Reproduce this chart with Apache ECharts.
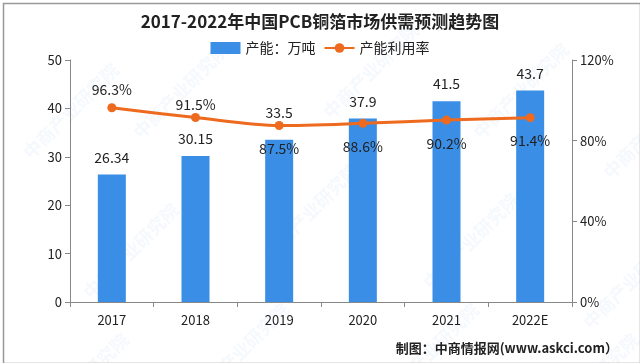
<!DOCTYPE html>
<html><head><meta charset="utf-8">
<script src="https://cdn.jsdelivr.net/npm/echarts@6/dist/echarts.min.js"></script>
<style>html,body{margin:0;padding:0;background:#fff}#c{width:640px;height:363px}</style>
</head><body><div id="c"></div>
<script>
const categories = ['2017','2018','2019','2020','2021','2022E'];
const capacity = [26.34, 30.15, 33.5, 37.9, 41.5, 43.7];
const utilization = [96.3, 91.5, 87.5, 88.6, 90.2, 91.4];
const chart = echarts.init(document.getElementById('c'));
const font = '"Noto Sans CJK SC", sans-serif';
const wm = [];
[[20,60],[130,40],[320,20],[470,40],[600,80],[80,200],[260,160],[420,190],[580,230],[30,330],[190,300],[380,300],[540,330]].forEach(p=>{
  wm.push({type:'text',left:p[0],top:p[1],rotation:Math.PI/4,silent:true,z:-1,
    style:{text:'中商产业研究院',font:'bold 18px '+font,fill:'rgba(120,160,210,0.07)'}});
});
chart.setOption({
  animation:false,
  backgroundColor:'#fff',
  title:{text:'2017-2022年中国PCB铜箔市场供需预测趋势图',left:'center',top:8,
    textStyle:{fontFamily:font,fontSize:17,fontWeight:'bold',color:'#222'}},
  legend:{top:36,left:'center',itemWidth:30,itemHeight:12,itemGap:8,
    textStyle:{fontFamily:font,fontSize:14,color:'#222'},
    data:[{name:'产能：万吨',icon:'rect'},{name:'产能利用率'}]},
  grid:{left:70,right:68,top:60,bottom:61},
  xAxis:{type:'category',data:categories,
    axisLine:{lineStyle:{color:'#888'}},
    axisTick:{show:true,alignWithLabel:false,lineStyle:{color:'#888'}},
    axisLabel:{fontFamily:font,fontSize:13,color:'#222',margin:12}},
  yAxis:[
    {type:'value',min:0,max:50,interval:10,
     axisLine:{show:true,lineStyle:{color:'#888'}},axisTick:{show:true,lineStyle:{color:'#888'}},
     splitLine:{show:false},axisLabel:{fontFamily:font,fontSize:13,color:'#222'}},
    {type:'value',min:0,max:120,interval:40,
     axisLine:{show:true,lineStyle:{color:'#888'}},axisTick:{show:true,inside:false,lineStyle:{color:'#888'}},
     splitLine:{show:false},axisLabel:{fontFamily:font,fontSize:13,color:'#222',formatter:'{value}%'}}
  ],
  series:[
    {name:'产能：万吨',type:'bar',barWidth:28,
     data:capacity.map((v,i)=>({value:v,label:{distance:i===2?20:10}})),
     itemStyle:{color:'#3A8EE6'},
     label:{show:true,position:'top',fontFamily:font,fontSize:14,color:'#222'}},
    {name:'产能利用率',type:'line',yAxisIndex:1,smooth:0.3,
     symbol:'circle',symbolSize:9,z:3,
     lineStyle:{color:'#EE6A1F',width:3},itemStyle:{color:'#EE6A1F'},
     label:{show:true,fontFamily:font,fontSize:14,color:'#222',formatter:'{c}%'},
     data:utilization.map((v,i)=>({value:v,label:{position:i<2?'top':'bottom',distance:i===0?7:(i===1?1:12)}}))}
  ],
  graphic:wm.concat([
    {type:'text',right:22,bottom:8,style:{text:'制图：中商情报网(www.askci.com）',font:'bold 13px '+font,fill:'#222'}},
    {type:'rect',left:1,top:1,shape:{width:637,height:360},style:{fill:'none',stroke:'#999',lineWidth:1.5},silent:true}
  ])
});
</script></body></html>
